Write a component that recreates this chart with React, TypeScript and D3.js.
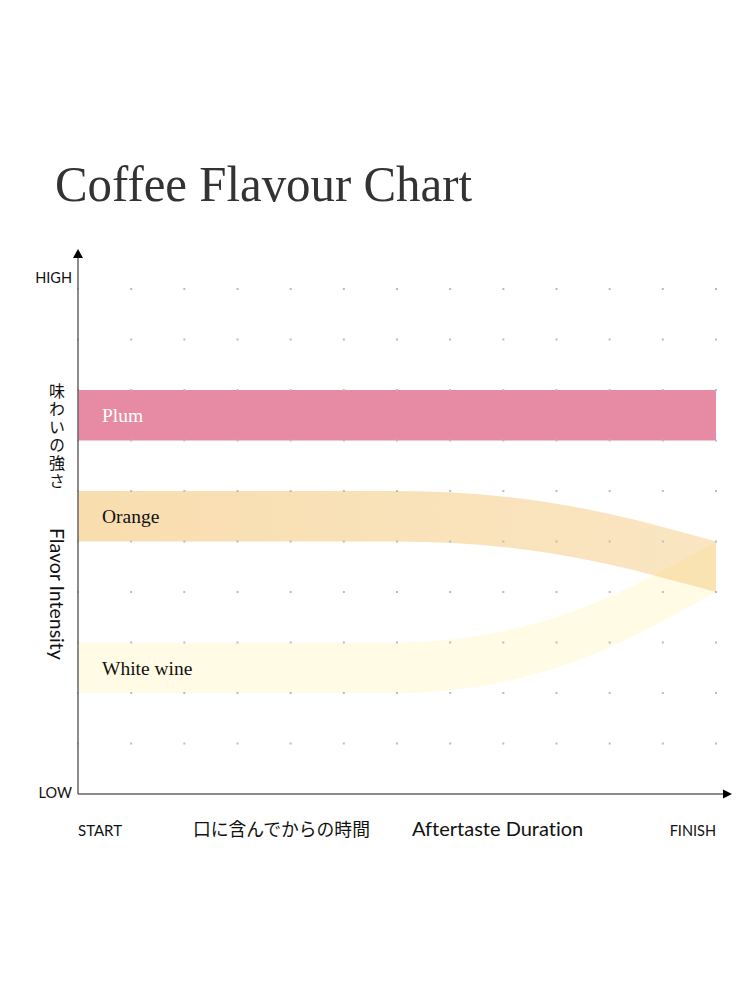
import React from "react";
import * as d3 from "d3";

const title = "Coffee Flavour Chart";
const xSteps = d3.range(0, 13); // grid columns 0..12
const ySteps = d3.range(1, 11); // grid rows 1..10

const plumX = [0, 12];
const plumLow = [7, 7];
const plumHigh = [8, 8];

const orangeX = [0, 6, 9, 12];
const orangeLow = [5, 5, 4.75, 4];
const orangeHigh = [6, 6, 5.75, 5];

const wineX = [0, 6, 9, 12];
const wineLow = [2, 2, 2.5, 4];
const wineHigh = [3, 3, 3.5, 5];

const bandLabels = ["Plum", "Orange", "White wine"];
const bandLabelLevel = [7.5, 5.5, 2.5];
const yAxisJa = "味わいの強さ";
const yAxisEn = "Flavor Intensity";
const xAxisJa = "口に含んでからの時間";
const xAxisEn = "Aftertaste Duration";
const highLabel = "HIGH";
const lowLabel = "LOW";
const startLabel = "START";
const finishLabel = "FINISH";

const W = 750;
const H = 1000;

export default function App() {
  const x = d3.scaleLinear().domain([0, 12]).range([78, 716]);
  const y = d3.scaleLinear().domain([0, 10]).range([794, 289]);

  const mk = (xs: number[], lo: number[], hi: number[]) =>
    xs.map((v, i) => ({ x: v, lo: lo[i], hi: hi[i] }));

  const area = d3
    .area<{ x: number; lo: number; hi: number }>()
    .x((d) => x(d.x))
    .y0((d) => y(d.lo))
    .y1((d) => y(d.hi))
    .curve(d3.curveMonotoneX);

  const sans = "Lato, 'Noto Sans', sans-serif";
  const serif = "'Liberation Serif', 'DejaVu Serif', serif";
  const cjk = "'Noto Sans CJK JP', sans-serif";
  const noLig = { fontVariantLigatures: "none" } as React.CSSProperties;

  return (
    <svg
      width={W}
      height={H}
      style={{ position: "absolute", left: 0, top: 0, display: "block", background: "#fff" }}
    >
      <defs>
        <linearGradient id="orangeGrad" gradientUnits="userSpaceOnUse" x1={x(0)} x2={x(12)} y1={0} y2={0}>
          <stop offset="0" stopColor="rgb(242,190,100)" stopOpacity={0.52} />
          <stop offset="1" stopColor="rgb(242,190,100)" stopOpacity={0.39} />
        </linearGradient>
      </defs>

      <text x={55} y={201} fontFamily={serif} fontSize={50} fill="#333" textLength={417} lengthAdjust="spacingAndGlyphs">
        {title}
      </text>

      {/* bands */}
      <path d={area(mk(wineX, wineLow, wineHigh)) || ""} fill="#FFFBE4" />
      <path d={area(mk(orangeX, orangeLow, orangeHigh)) || ""} fill="url(#orangeGrad)" />
      <path d={area(mk(plumX, plumLow, plumHigh)) || ""} fill="#E78AA3" />

      {/* grid dots */}
      {xSteps.map((i) =>
        ySteps.map((j) => (
          <rect key={`${i}-${j}`} x={x(i) - 1} y={y(j) - 1} width={2} height={2} fill="#bcbcbc" />
        ))
      )}

      {/* band labels */}
      {bandLabels.map((t, i) => (
        <text
          key={t}
          x={102}
          y={y(bandLabelLevel[i]) + 7}
          fontFamily={serif}
          fontSize={19.5}
          fill={i === 0 ? "#fff" : "#111"}
        >
          {t}
        </text>
      ))}

      {/* axes */}
      <line x1={x(0)} y1={y(0)} x2={x(0)} y2={257} stroke="#666" strokeWidth={1.5} />
      <line x1={x(0)} y1={y(0)} x2={724} y2={y(0)} stroke="#666" strokeWidth={1.5} />
      <path d={`M${x(0)},249 L${x(0) + 5},258 L${x(0) - 5},258 Z`} fill="#000" />
      <path d={`M732,${y(0)} L723,${y(0) - 4.5} L723,${y(0) + 4.5} Z`} fill="#000" />

      <text x={72} y={283} textAnchor="end" fontFamily={sans} fontSize={14.5} fill="#111">
        {highLabel}
      </text>
      <text x={72} y={798} textAnchor="end" fontFamily={sans} fontSize={14.5} fill="#111">
        {lowLabel}
      </text>
      <text x={x(0)} y={836} fontFamily={sans} fontSize={15} fill="#111">
        {startLabel}
      </text>
      <text x={x(12)} y={836} textAnchor="end" fontFamily={sans} fontSize={14.5} fill="#111">
        {finishLabel}
      </text>
      <text x={193} y={836} fontFamily={cjk} fontSize={17.8} fill="#111">
        {xAxisJa}
      </text>
      <text x={412} y={836} fontFamily={sans} fontSize={20} fill="#111" style={noLig}>
        {xAxisEn}
      </text>

      <text
        x={57}
        y={383}
        fontFamily={cjk}
        fontSize={16}
        fill="#111"
        letterSpacing={2}
        style={{ writingMode: "vertical-rl", textOrientation: "upright" } as React.CSSProperties}
      >
        {yAxisJa}
      </text>
      <text transform="translate(50,528) rotate(90)" fontFamily={sans} fontSize={19.5} fill="#111" style={noLig}>
        {yAxisEn}
      </text>
    </svg>
  );
}
